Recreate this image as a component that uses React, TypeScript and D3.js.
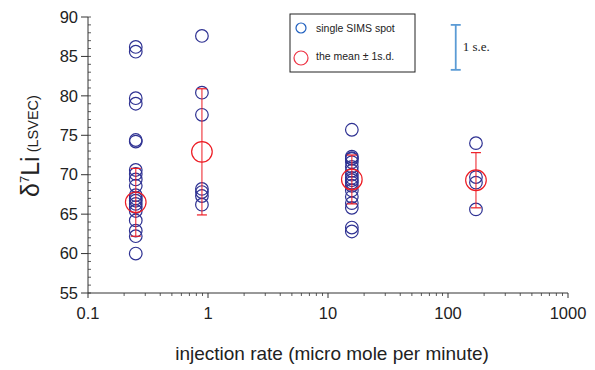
import * as d3 from "d3";

// injection rates (micro mole per minute) of the four runs
const rates = [0.25, 0.89, 15.8, 171];

// single SIMS spot values of δ7Li for each run
const spots = [
  [86.2, 85.6, 79.7, 79.0, 74.4, 74.2, 70.6, 70.1, 69.4, 68.6, 67.4, 67.0, 66.7, 66.3, 65.9, 65.4, 64.2, 62.9, 62.2, 60.0],
  [87.6, 80.4, 77.6, 68.2, 67.8, 67.3, 66.2],
  [75.7, 72.3, 72.1, 72.0, 71.6, 71.0, 70.5, 70.0, 69.6, 69.3, 69.0, 68.6, 68.0, 67.2, 66.4, 65.8, 63.3, 62.8],
  [74.0, 69.7, 69.0, 65.6],
];

// mean and 1 s.d. of each run
const means = [66.5, 72.9, 69.4, 69.3];
const sds = [4.3, 8.0, 3.1, 3.5];

const xTicks = [0.1, 1, 10, 100, 1000];
const yTicks = [55, 60, 65, 70, 75, 80, 85, 90];

// 1 s.e. scale bar (x position, top, bottom in data units)
const seBar = { rate: 116, top: 89, bottom: 83.3 };

const W = 595;
const H = 370;
const margin = { top: 17, right: 27, bottom: 77, left: 88 };

const BLUE = "#2e3192";
const RED = "#ed1c24";
const FONT = "'Liberation Sans', Arial, sans-serif";

export default function App() {
  const x = d3.scaleLog().domain([0.1, 1000]).range([margin.left, W - margin.right]);
  const y = d3.scaleLinear().domain([55, 90]).range([H - margin.bottom, margin.top]);
  const y0 = y(55);

  const minorX: number[] = [];
  for (let e = -1; e < 3; e++) {
    for (let k = 2; k <= 9; k++) minorX.push(k * Math.pow(10, e));
  }
  const minorY = d3.range(55, 91, 1);

  return (
    <div style={{ position: "absolute", left: 0, top: 0 }}>
      <svg width={W} height={H} style={{ display: "block", background: "#fff" }}>
        {/* y axis */}
        <line x1={margin.left} x2={margin.left} y1={y(90)} y2={y0} stroke="#333" strokeWidth={1} />
        {minorY.map((v) => (
          <line key={"my" + v} x1={margin.left} x2={margin.left + 3} y1={y(v)} y2={y(v)} stroke="#333" strokeWidth={0.8} />
        ))}
        {yTicks.map((v) => (
          <g key={"y" + v}>
            <line x1={margin.left - 7} x2={margin.left} y1={y(v)} y2={y(v)} stroke="#333" strokeWidth={1} />
            <text x={margin.left - 10} y={y(v)} dy="0.35em" textAnchor="end" fontFamily={FONT} fontSize={16.5} fill="#222">
              {v}
            </text>
          </g>
        ))}

        {/* x axis */}
        <line x1={x(0.1)} x2={x(1000)} y1={y0} y2={y0} stroke="#333" strokeWidth={1} />
        {minorX.map((v) => (
          <line key={"mx" + v} x1={x(v)} x2={x(v)} y1={y0} y2={y0 + 3} stroke="#333" strokeWidth={0.8} />
        ))}
        {xTicks.map((v) => (
          <g key={"x" + v}>
            <line x1={x(v)} x2={x(v)} y1={y0} y2={y0 + 5} stroke="#333" strokeWidth={1} />
            <text x={x(v)} y={y0 + 26} textAnchor="middle" fontFamily={FONT} fontSize={16.5} fill="#222">
              {v}
            </text>
          </g>
        ))}

        {/* axis titles */}
        <text x={(x(0.1) + x(1000)) / 2 + 4} y={360} textAnchor="middle" fontFamily={FONT} fontSize={19} fill="#222">
          injection rate (micro mole per minute)
        </text>
        <text transform={`translate(39,146) rotate(-90)`} textAnchor="middle" fontFamily={FONT} fill="#222">
          <tspan fontSize={25}>δ</tspan>
          <tspan fontSize={13} dy={-10}>7</tspan>
          <tspan fontSize={25} dy={10}>Li</tspan>
          <tspan fontSize={14.5} dy={-1}> (LSVEC)</tspan>
        </text>

        {/* single spots */}
        {spots.map((vals, i) =>
          vals.map((v, j) => (
            <circle key={`s${i}-${j}`} cx={x(rates[i])} cy={y(v)} r={6.3} fill="none" stroke={BLUE} strokeWidth={1.2} />
          ))
        )}

        {/* mean ± 1 s.d. */}
        {means.map((m, i) => {
          const cx = x(rates[i]);
          const top = y(m + sds[i]);
          const bot = y(m - sds[i]);
          return (
            <g key={"m" + i} stroke={RED} fill="none">
              <line x1={cx} x2={cx} y1={top} y2={bot} strokeWidth={1.2} strokeOpacity={0.85} />
              <line x1={cx - 5} x2={cx + 5} y1={top} y2={top} strokeWidth={1.2} />
              <line x1={cx - 5} x2={cx + 5} y1={bot} y2={bot} strokeWidth={1.2} />
              <circle cx={cx} cy={y(m)} r={10.3} strokeWidth={1.2} />
            </g>
          );
        })}

        {/* legend */}
        <rect x={290} y={14} width={125} height={58} fill="#fff" stroke="#222" strokeWidth={1} />
        <circle cx={301} cy={28} r={5} fill="none" stroke="#1f5fbf" strokeWidth={1.2} />
        <text x={316} y={32} fontFamily={FONT} fontSize={10.5} fill="#222">single SIMS spot</text>
        <circle cx={301} cy={58} r={7} fill="none" stroke="#ee3344" strokeWidth={1.2} />
        <text x={316} y={60} fontFamily={FONT} fontSize={10.5} fill="#222">the mean ± 1s.d.</text>

        {/* 1 s.e. bar */}
        <g stroke="#5b9bd5" strokeWidth={1.8}>
          <line x1={x(seBar.rate)} x2={x(seBar.rate)} y1={y(seBar.top)} y2={y(seBar.bottom)} />
          <line x1={x(seBar.rate) - 5} x2={x(seBar.rate) + 5} y1={y(seBar.top)} y2={y(seBar.top)} />
          <line x1={x(seBar.rate) - 5} x2={x(seBar.rate) + 5} y1={y(seBar.bottom)} y2={y(seBar.bottom)} />
        </g>
        <text x={x(seBar.rate) + 7} y={y((seBar.top + seBar.bottom) / 2) + 4} fontFamily="'Liberation Serif', 'Times New Roman', serif" fontSize={13} fill="#222">
          1 s.e.
        </text>
      </svg>
    </div>
  );
}
